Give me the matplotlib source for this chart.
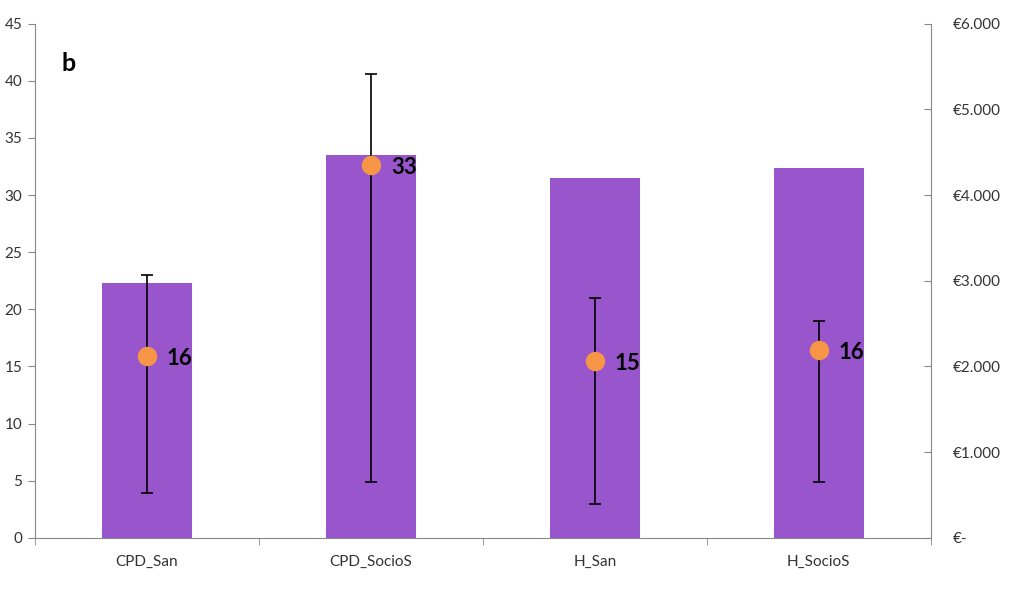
import numpy as np
import matplotlib.pyplot as plt
from matplotlib.ticker import FixedLocator

# DATA
categories = ["CPD_San", "CPD_SocioS", "H_San", "H_SocioS"]
cost_eur = [2975, 4470, 4200, 4315]          # bars, right axis
value = [15.9, 32.6, 15.5, 16.4]             # orange points, left axis
err_low = [3.9, 4.9, 3.0, 4.9]
err_high = [23.0, 40.6, 21.0, 19.0]
point_labels = ["16", "33", "15", "16"]
left_ticks = [0, 5, 10, 15, 20, 25, 30, 35, 40, 45]
right_ticks = [0, 1000, 2000, 3000, 4000, 5000, 6000]
right_tick_labels = ["€-", "€1.000", "€2.000", "€3.000", "€4.000", "€5.000", "€6.000"]

plt.rcParams['font.family'] = ['Lato', 'DejaVu Sans']

fig = plt.figure(figsize=(10.24, 5.93), dpi=100)
ax = fig.add_axes([0.034, 0.093, 0.875, 0.867])
ax2 = ax.twinx()

x = np.arange(len(categories))
axis_col = "#888888"
text_col = "#333333"

# bars on the cost axis
ax2.bar(x, cost_eur, width=0.4, color="#9955CC", zorder=1)
ax2.set_ylim(0, 6000)
ax2.set_yticks(right_ticks)
ax2.set_yticklabels(right_tick_labels)

# points with error bars on the left axis
ax.set_zorder(ax2.get_zorder() + 1)
ax.patch.set_visible(False)
lo = np.array(value) - np.array(err_low)
hi = np.array(err_high) - np.array(value)
ax.errorbar(x, value, yerr=[lo, hi], fmt='none', ecolor="black",
            elinewidth=1.2, capsize=4, capthick=1.2, zorder=2)
ax.plot(x, value, 'o', color="#F79646", markersize=13, zorder=3)
for xi, v, lab in zip(x, value, point_labels):
    ax.text(xi + 0.09, v - 0.2, lab, fontsize=16, fontweight='bold',
            va='center', ha='left', color="black", zorder=4)

ax.set_xlim(-0.5, len(categories) - 0.5)
ax.set_ylim(0, 45)
ax.set_yticks(left_ticks)
ax.set_xticks(x)
ax.set_xticklabels(categories)
ax.xaxis.set_minor_locator(FixedLocator(np.arange(-0.5, len(categories), 1.0)))
ax.tick_params(axis='x', which='major', length=0, pad=12, labelsize=11, labelcolor=text_col)
ax.tick_params(axis='x', which='minor', length=5, color=axis_col, direction='out')
ax.tick_params(axis='y', length=5, color=axis_col, labelsize=11, labelcolor=text_col, pad=4)
ax2.tick_params(axis='y', length=5, color=axis_col, direction='in', labelsize=11,
                labelcolor=text_col, pad=16)

for a in (ax, ax2):
    a.spines['top'].set_visible(False)
    a.spines['left'].set_color(axis_col)
    a.spines['right'].set_color(axis_col)
    a.spines['bottom'].set_color(axis_col)
ax.spines['right'].set_visible(False)
ax2.spines['left'].set_visible(False)
ax2.spines['bottom'].set_visible(False)

ax.text(0.03, 0.908, "b", transform=ax.transAxes, fontsize=18,
        fontweight='bold', color="black")

fig.savefig("out.png", dpi=100)
